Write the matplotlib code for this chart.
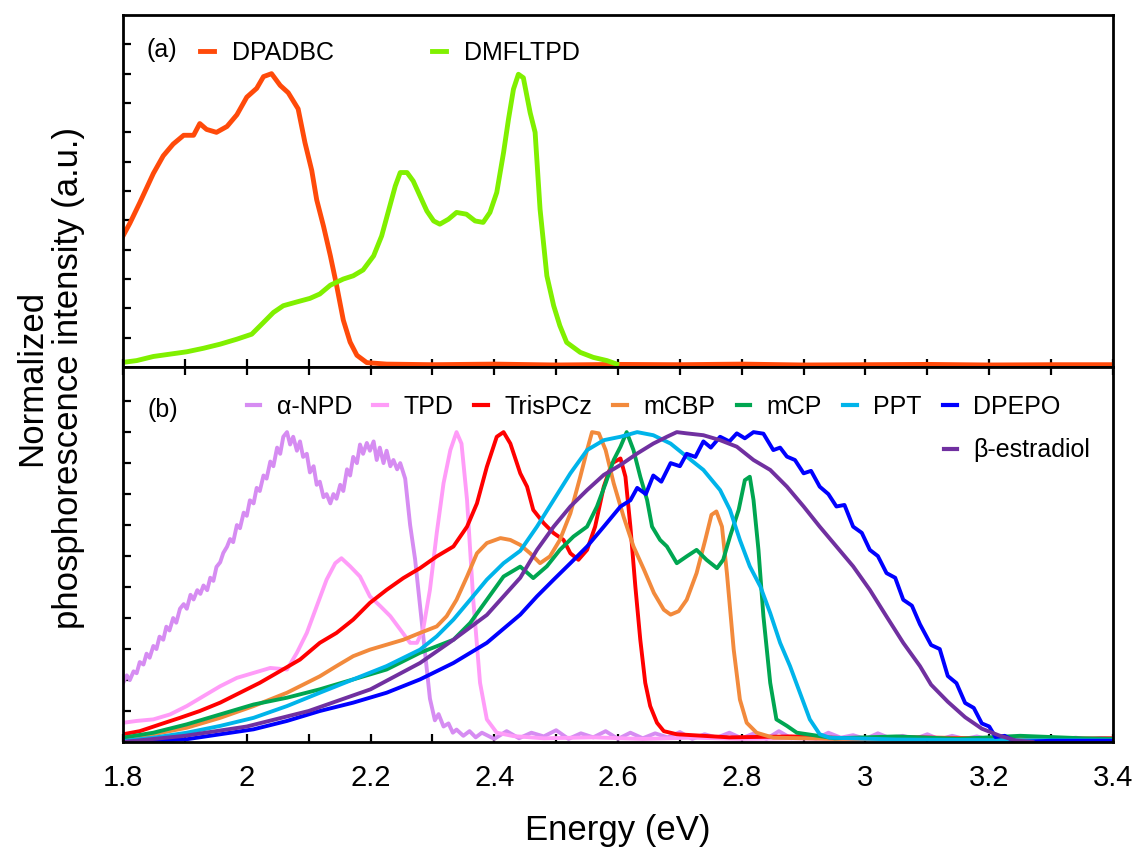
import numpy as np
import matplotlib.pyplot as plt
from matplotlib.lines import Line2D

plt.rcParams['font.family'] = ['Liberation Sans', 'DejaVu Sans']

# ---- panel (a) ----
dpadbc_x = [1.800, 1.811, 1.827, 1.838, 1.849, 1.865, 1.881, 1.898, 1.914, 1.924, 1.935, 1.951,
            1.968, 1.984, 2.000, 2.016, 2.027, 2.040, 2.054, 2.067, 2.083, 2.094, 2.105, 2.113,
            2.124, 2.135, 2.145, 2.156, 2.167, 2.178, 2.194, 2.226, 2.30, 2.40, 2.50, 2.60,
            2.70, 2.80, 2.90, 3.00, 3.10, 3.20, 3.30, 3.40]
dpadbc_y = [0.447, 0.49, 0.56, 0.61, 0.66, 0.72, 0.76, 0.79, 0.79, 0.83, 0.81, 0.80,
            0.82, 0.86, 0.92, 0.95, 0.99, 1.00, 0.96, 0.935, 0.88, 0.765, 0.67, 0.57,
            0.48, 0.38, 0.28, 0.16, 0.085, 0.04, 0.015, 0.010, 0.008, 0.010, 0.007, 0.009,
            0.008, 0.010, 0.007, 0.008, 0.009, 0.007, 0.008, 0.008]

dmfltpd_x = [1.800, 1.822, 1.849, 1.876, 1.903, 1.930, 1.957, 1.984, 2.008, 2.027, 2.043, 2.059,
             2.081, 2.102, 2.118, 2.135, 2.156, 2.172, 2.188, 2.205, 2.218, 2.229, 2.240, 2.248,
             2.259, 2.269, 2.280, 2.291, 2.302, 2.312, 2.326, 2.339, 2.355, 2.369, 2.382, 2.393,
             2.404, 2.415, 2.423, 2.431, 2.439, 2.447, 2.458, 2.466, 2.474, 2.485, 2.496, 2.506,
             2.517, 2.539, 2.560, 2.582, 2.598]
dmfltpd_y = [0.016, 0.022, 0.036, 0.044, 0.052, 0.064, 0.078, 0.095, 0.112, 0.152, 0.186, 0.209,
             0.222, 0.234, 0.249, 0.279, 0.300, 0.311, 0.331, 0.379, 0.447, 0.532, 0.617, 0.663,
             0.663, 0.634, 0.583, 0.532, 0.498, 0.487, 0.504, 0.527, 0.521, 0.498, 0.493, 0.527,
             0.595, 0.731, 0.845, 0.947, 0.998, 0.986, 0.867, 0.800, 0.538, 0.311, 0.209, 0.141,
             0.084, 0.050, 0.033, 0.022, 0.010]

# ---- panel (b) ----
anpd_x = [1.800, 1.806, 1.811, 1.817, 1.822, 1.827, 1.833, 1.838, 1.843, 1.849, 1.854, 1.859,
          1.865, 1.870, 1.875, 1.881, 1.886, 1.892, 1.898, 1.903, 1.909, 1.914, 1.920, 1.925,
          1.930, 1.936, 1.941, 1.946, 1.951, 1.957, 1.962, 1.968, 1.973, 1.978, 1.984, 1.989,
          1.995, 2.000, 2.005, 2.011, 2.016, 2.021, 2.027, 2.032, 2.038, 2.043, 2.049, 2.054,
          2.059, 2.065, 2.070, 2.075, 2.081, 2.086, 2.091, 2.097, 2.102, 2.108, 2.113, 2.118,
          2.124, 2.129, 2.135, 2.140, 2.145, 2.151, 2.156, 2.162, 2.167, 2.172, 2.178, 2.183,
          2.188, 2.194, 2.199, 2.205, 2.210, 2.215, 2.221, 2.226, 2.232, 2.237, 2.243, 2.248,
          2.256, 2.264, 2.272, 2.280, 2.288, 2.296, 2.304, 2.310, 2.318, 2.326, 2.333, 2.339,
          2.35, 2.36, 2.37, 2.38, 2.40, 2.42, 2.44, 2.46, 2.48, 2.50, 2.52, 2.54, 2.56, 2.58,
          2.60, 2.62, 2.64, 2.66, 2.68, 2.70, 2.72, 2.74, 2.76, 2.78, 2.80, 2.82, 2.84, 2.86,
          2.88, 2.90, 2.92, 2.94, 2.96, 2.98, 3.00, 3.02, 3.04, 3.06, 3.08, 3.10, 3.12, 3.14,
          3.16, 3.18, 3.20, 3.22, 3.24, 3.26, 3.28, 3.30, 3.32, 3.34, 3.36, 3.38, 3.40]
anpd_y = [0.19, 0.215, 0.20, 0.228, 0.222, 0.258, 0.25, 0.285, 0.272, 0.31, 0.30, 0.34,
          0.33, 0.372, 0.36, 0.40, 0.385, 0.43, 0.445, 0.43, 0.475, 0.46, 0.49, 0.478,
          0.505, 0.49, 0.53, 0.52, 0.565, 0.58, 0.61, 0.63, 0.655, 0.645, 0.70, 0.69,
          0.74, 0.73, 0.78, 0.77, 0.82, 0.81, 0.86, 0.85, 0.905, 0.89, 0.95, 0.93,
          0.985, 1.0, 0.96, 0.985, 0.94, 0.97, 0.92, 0.93, 0.87, 0.89, 0.83, 0.84,
          0.79, 0.80, 0.77, 0.80, 0.785, 0.83, 0.81, 0.88, 0.86, 0.92, 0.90, 0.96,
          0.93, 0.965, 0.94, 0.97, 0.91, 0.95, 0.90, 0.94, 0.89, 0.91, 0.88, 0.90,
          0.85, 0.70, 0.59, 0.44, 0.29, 0.14, 0.07, 0.09, 0.05, 0.06, 0.03, 0.04,
          0.02, 0.035, 0.015, 0.03, 0.01, 0.035, 0.012, 0.03, 0.018, 0.038, 0.01, 0.028, 0.015, 0.035,
          0.01, 0.03, 0.012, 0.028, 0.015, 0.032, 0.01, 0.025, 0.014, 0.03, 0.012, 0.028, 0.01, 0.035,
          0.012, 0.025, 0.01, 0.03, 0.014, 0.022, 0.01, 0.028, 0.012, 0.02, 0.01, 0.025, 0.008, 0.02,
          0.01, 0.018, 0.008, 0.015, 0.01, 0.016, 0.008, 0.012, 0.01, 0.014, 0.008, 0.012, 0.01]

tpd_x = [1.800, 1.822, 1.849, 1.876, 1.903, 1.930, 1.957, 1.984, 2.011, 2.038, 2.065, 2.081,
         2.097, 2.113, 2.129, 2.143, 2.153, 2.167, 2.183, 2.199, 2.216, 2.232, 2.248, 2.264,
         2.275, 2.285, 2.296, 2.307, 2.318, 2.329, 2.339, 2.347, 2.356, 2.366, 2.377, 2.388,
         2.404, 2.431, 2.48, 2.56, 2.64, 2.72, 2.80, 2.88, 2.96, 3.04, 3.12, 3.20, 3.28, 3.40]
tpd_y = [0.062, 0.068, 0.073, 0.089, 0.116, 0.148, 0.18, 0.207, 0.223, 0.239, 0.234, 0.288,
         0.352, 0.438, 0.524, 0.577, 0.593, 0.567, 0.534, 0.47, 0.438, 0.406, 0.363, 0.32,
         0.32, 0.363, 0.491, 0.674, 0.835, 0.942, 1.0, 0.963, 0.781, 0.459, 0.191, 0.073,
         0.03, 0.019, 0.012, 0.015, 0.01, 0.014, 0.01, 0.012, 0.009, 0.012, 0.01, 0.011, 0.009, 0.01]

trispcz_x = [1.800, 1.827, 1.860, 1.892, 1.924, 1.957, 1.989, 2.021, 2.054, 2.086, 2.118, 2.145,
             2.172, 2.199, 2.226, 2.253, 2.280, 2.307, 2.334, 2.356, 2.372, 2.388, 2.404, 2.415,
             2.426, 2.442, 2.453, 2.463, 2.480, 2.496, 2.512, 2.523, 2.536, 2.550, 2.563, 2.577,
             2.590, 2.604, 2.612, 2.620, 2.628, 2.636, 2.644, 2.652, 2.663, 2.674, 2.695, 2.78,
             2.88, 2.98, 3.08, 3.18, 3.28, 3.40]
trispcz_y = [0.025, 0.035, 0.057, 0.078, 0.1, 0.127, 0.159, 0.191, 0.229, 0.266, 0.32, 0.352,
             0.395, 0.449, 0.491, 0.529, 0.561, 0.599, 0.631, 0.695, 0.77, 0.888, 0.985, 1.0,
             0.963, 0.867, 0.824, 0.749, 0.706, 0.674, 0.652, 0.609, 0.588, 0.62, 0.695, 0.824,
             0.899, 0.915, 0.856, 0.695, 0.502, 0.33, 0.191, 0.116, 0.062, 0.035, 0.025, 0.015,
             0.018, 0.012, 0.015, 0.012, 0.01, 0.012]

mcbp_x = [1.800, 1.849, 1.903, 1.957, 2.011, 2.065, 2.118, 2.145, 2.172, 2.199, 2.226, 2.253,
          2.280, 2.307, 2.323, 2.339, 2.356, 2.372, 2.388, 2.410, 2.426, 2.442, 2.458, 2.474,
          2.490, 2.506, 2.523, 2.539, 2.550, 2.558, 2.569, 2.580, 2.593, 2.609, 2.625, 2.642,
          2.658, 2.674, 2.685, 2.698, 2.711, 2.727, 2.741, 2.751, 2.759, 2.768, 2.776, 2.787,
          2.797, 2.808, 2.824, 2.851, 2.95, 3.10, 3.25, 3.40]
mcbp_y = [0.009, 0.025, 0.046, 0.078, 0.116, 0.159, 0.212, 0.245, 0.277, 0.298, 0.314, 0.33,
          0.352, 0.373, 0.406, 0.459, 0.534, 0.609, 0.642, 0.658, 0.652, 0.636, 0.609, 0.577,
          0.599, 0.652, 0.738, 0.856, 0.942, 1.0, 0.996, 0.942, 0.835, 0.727, 0.631, 0.556,
          0.481, 0.427, 0.411, 0.422, 0.459, 0.545, 0.652, 0.733, 0.744, 0.695, 0.545, 0.298,
          0.137, 0.062, 0.03, 0.014, 0.01, 0.012, 0.01, 0.01]

mcp_x = [1.800, 1.849, 1.903, 1.957, 2.011, 2.065, 2.118, 2.172, 2.226, 2.280, 2.307, 2.334,
         2.361, 2.388, 2.415, 2.442, 2.463, 2.485, 2.506, 2.528, 2.550, 2.566, 2.580, 2.593,
         2.604, 2.614, 2.625, 2.636, 2.647, 2.655, 2.668, 2.679, 2.695, 2.711, 2.727, 2.743,
         2.760, 2.770, 2.781, 2.795, 2.805, 2.813, 2.819, 2.827, 2.835, 2.846, 2.856, 2.873,
         2.889, 2.95, 3.05, 3.15, 3.25, 3.35, 3.40]
mcp_y = [0.014, 0.03, 0.057, 0.089, 0.121, 0.143, 0.17, 0.202, 0.234, 0.288, 0.309, 0.33,
         0.384, 0.459, 0.534, 0.566, 0.529, 0.567, 0.62, 0.663, 0.695, 0.76, 0.835, 0.91,
         0.953, 1.0, 0.942, 0.856, 0.781, 0.695, 0.652, 0.631, 0.577, 0.599, 0.62, 0.588,
         0.561, 0.588, 0.663, 0.749, 0.845, 0.856, 0.781, 0.62, 0.406, 0.191, 0.073, 0.052,
         0.03, 0.012, 0.018, 0.01, 0.02, 0.012, 0.01]

ppt_x = [1.800, 1.849, 1.903, 1.957, 2.011, 2.065, 2.118, 2.172, 2.226, 2.280, 2.307, 2.334,
         2.361, 2.388, 2.415, 2.442, 2.469, 2.496, 2.523, 2.550, 2.577, 2.604, 2.631, 2.657,
         2.685, 2.711, 2.738, 2.765, 2.781, 2.797, 2.813, 2.830, 2.846, 2.862, 2.878, 2.894,
         2.910, 2.926, 2.942, 3.05, 3.20, 3.40]
ppt_y = [0.003, 0.014, 0.03, 0.052, 0.078, 0.116, 0.159, 0.202, 0.245, 0.298, 0.341, 0.395,
         0.459, 0.524, 0.577, 0.617, 0.695, 0.781, 0.867, 0.942, 0.974, 0.985, 1.0, 0.99,
         0.963, 0.921, 0.878, 0.813, 0.749, 0.652, 0.567, 0.502, 0.416, 0.32, 0.245, 0.159,
         0.073, 0.025, 0.014, 0.008, 0.006, 0.005]

dpepo_x = [1.800, 1.849, 1.903, 1.957, 2.011, 2.065, 2.118, 2.172, 2.226, 2.280, 2.334, 2.388,
           2.442, 2.469, 2.496, 2.523, 2.550, 2.577, 2.604, 2.620, 2.631, 2.645, 2.657, 2.670,
           2.685, 2.700, 2.711, 2.725, 2.738, 2.750, 2.765, 2.780, 2.792, 2.805, 2.819, 2.835,
           2.851, 2.862, 2.873, 2.886, 2.900, 2.912, 2.926, 2.940, 2.953, 2.966, 2.980, 2.994,
           3.007, 3.020, 3.034, 3.048, 3.061, 3.075, 3.088, 3.106, 3.120, 3.133, 3.147, 3.161,
           3.175, 3.188, 3.200, 3.210, 3.225, 3.243, 3.30, 3.40]
dpepo_y = [0.0, 0.003, 0.009, 0.025, 0.041, 0.068, 0.1, 0.127, 0.159, 0.202, 0.255, 0.32,
           0.411, 0.47, 0.524, 0.577, 0.631, 0.695, 0.76, 0.78, 0.82, 0.80, 0.86, 0.84,
           0.90, 0.89, 0.93, 0.92, 0.97, 0.95, 0.985, 0.97, 0.996, 0.98, 1.0, 0.995,
           0.942, 0.95, 0.921, 0.91, 0.867, 0.875, 0.824, 0.80, 0.76, 0.765, 0.695, 0.675,
           0.62, 0.60, 0.545, 0.53, 0.459, 0.44, 0.38, 0.313, 0.30, 0.213, 0.19, 0.126,
           0.11, 0.06, 0.05, 0.016, 0.02, 0.0, 0.004, 0.004]

estr_x = [1.800, 1.900, 2.000, 2.100, 2.200, 2.280, 2.334, 2.388, 2.442, 2.469, 2.496, 2.523,
          2.550, 2.577, 2.604, 2.631, 2.657, 2.679, 2.695, 2.711, 2.738, 2.765, 2.792, 2.819,
          2.846, 2.873, 2.900, 2.926, 2.953, 2.980, 3.007, 3.034, 3.061, 3.088, 3.106, 3.133,
          3.161, 3.188, 3.216, 3.243, 3.270]
estr_y = [0.0, 0.02, 0.05, 0.1, 0.17, 0.255, 0.33, 0.41, 0.53, 0.62, 0.695, 0.76,
          0.813, 0.862, 0.894, 0.931, 0.963, 0.985, 1.0, 0.996, 0.99, 0.974, 0.953, 0.91,
          0.878, 0.824, 0.76, 0.695, 0.631, 0.567, 0.491, 0.405, 0.32, 0.245, 0.185, 0.13,
          0.08, 0.043, 0.021, 0.005, 0.0]

names_b = ['α-NPD', 'TPD', 'TrisPCz', 'mCBP', 'mCP', 'PPT', 'DPEPO', 'β-estradiol']
colors_b = ['#d68cf2', '#ff9cf8', '#ff0000', '#f28a3c', '#00a651', '#00b4ea', '#0000ff', '#7030a0']
xs_b = [anpd_x, tpd_x, trispcz_x, mcbp_x, mcp_x, ppt_x, dpepo_x, estr_x]
ys_b = [anpd_y, tpd_y, trispcz_y, mcbp_y, mcp_y, ppt_y, dpepo_y, estr_y]

fig = plt.figure(figsize=(11.32, 8.52), dpi=100)
axa = fig.add_axes([0.1087, 0.5692, 0.8745, 0.4132])
axb = fig.add_axes([0.1087, 0.1291, 0.8745, 0.4401])

for ax in (axa, axb):
    for s in ax.spines.values():
        s.set_linewidth(2)
    ax.set_xlim(1.8, 3.4)
    ax.tick_params(direction='in', length=6, width=1.6)

axa.plot(dpadbc_x, dpadbc_y, color='#ff4a0a', lw=3.5, label='DPADBC')
axa.plot(dmfltpd_x, dmfltpd_y, color='#80f000', lw=3.5, label='DMFLTPD')
axa.set_ylim(0, 1.2)
axa.set_yticks(np.arange(0.1, 1.15, 0.1))
axa.set_xticks(np.arange(1.8, 3.41, 0.1))
axa.tick_params(labelleft=False, labelbottom=False)
axa.text(0.024, 0.9, '(a)', transform=axa.transAxes, fontsize=18, va='center')
axa.legend(loc='upper left', bbox_to_anchor=(0.055, 0.99), ncol=2, frameon=False,
           fontsize=18, handlelength=0.55, handletextpad=0.75, columnspacing=3.9)

for x, y, c, n in zip(xs_b, ys_b, colors_b, names_b):
    axb.plot(x, y, color=c, lw=2.8, label=n)
axb.set_ylim(0, 1.21)
axb.set_yticks(np.arange(0.1, 1.15, 0.1))
axb.set_xticks(np.arange(1.8, 3.41, 0.2))
axb.set_xticks(np.arange(1.8, 3.41, 0.1), minor=True)
axb.set_xticklabels(['1.8', '2', '2.2', '2.4', '2.6', '2.8', '3', '3.2', '3.4'])
axb.tick_params(which='both', top=True, direction='in', length=6, width=1.6)
axb.tick_params(axis='x', pad=16, labelsize=21)
axb.tick_params(labelleft=False)
axb.text(0.025, 0.885, '(b)', transform=axb.transAxes, fontsize=18, va='center')

h = [Line2D([], [], color=c, lw=3) for c in colors_b]
leg1 = axb.legend(h[:7], names_b[:7], loc='upper left', bbox_to_anchor=(0.102, 0.985), ncol=7,
                  frameon=False, fontsize=18, handlelength=0.55, handletextpad=0.65, columnspacing=0.85)
axb.add_artist(leg1)
axb.legend(h[7:], names_b[7:], loc='upper right', bbox_to_anchor=(1.0, 0.87), frameon=False,
           fontsize=18, handlelength=0.55, handletextpad=0.65)

axb.set_xlabel('Energy (eV)', fontsize=25, labelpad=16)
fig.text(0.044, 0.556, 'Normalized\nphosphorescence intensity (a.u.)', rotation=90,
         ha='center', va='center', fontsize=25, linespacing=1.15)

fig.savefig('out.png', dpi=100)
